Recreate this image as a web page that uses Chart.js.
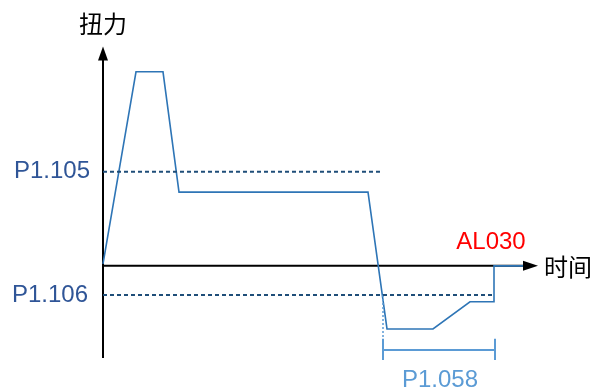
<!DOCTYPE html>
<html>
<head>
<meta charset="utf-8">
<script src="https://cdn.jsdelivr.net/npm/chart.js@4.4.1/dist/chart.umd.min.js"></script>
<style>
  html, body { margin: 0; padding: 0; background: #ffffff; }
  #wrap { width: 596px; height: 392px; }
</style>
</head>
<body>
<div id="wrap"><canvas id="chart" width="596" height="392"></canvas></div>
<script>
// Torque curve (time units, torque units; peak = 100)
const curveTime   = [0, 8.25, 15, 19, 66.25, 71, 82.5, 91.75, 97.75, 97.75, 105];
const curveTorque = [1, 100, 100, 38, 38, -32.5, -32.5, -18.5, -18.5, 0, 0];

// Threshold levels
const p1105Level = 48.5;
const p1105End = 70;
const p1106Level = -15;
const p1106End = 97.75;

// P1.058 bracket
const bracketStart = 70;
const bracketEnd = 98;
const bracketLevel = -43.3;
const bracketTop = -37.6;
const bracketBottom = -48.5;

// Axes extent
const xAxisEnd = 108.75;
const yAxisTop = 113;
const yAxisBottom = -47.5;

const curveColor = '#2E75B6';
const dashColor = '#1F4E79';
const bracketColor = '#5B9BD5';
const labelColor = '#2F5597';

function pts(xs, ys) { return xs.map(function(x, i) { return { x: x, y: ys[i] }; }); }

const lineBase = { showLine: true, fill: false, tension: 0, pointRadius: 0, pointHoverRadius: 0 };

const datasets = [
  Object.assign({}, lineBase, {
    label: 'P1.105',
    data: pts([0, p1105End], [p1105Level, p1105Level]),
    borderColor: dashColor, borderWidth: 2, borderDash: [4, 3]
  }),
  Object.assign({}, lineBase, {
    label: 'P1.106',
    data: pts([0, p1106End], [p1106Level, p1106Level]),
    borderColor: dashColor, borderWidth: 2, borderDash: [4, 3]
  }),
  Object.assign({}, lineBase, {
    label: 'P1.058 guide',
    data: pts([bracketStart, bracketStart], [p1106Level, bracketTop]),
    borderColor: bracketColor, borderWidth: 1.5, borderDash: [2, 2]
  }),
  Object.assign({}, lineBase, {
    // left tick, span, right tick (hidden joins between them)
    label: 'P1.058',
    data: pts([bracketStart, bracketStart, bracketStart, bracketEnd, bracketEnd, bracketEnd],
              [bracketTop, bracketBottom, bracketLevel, bracketLevel, bracketTop, bracketBottom]),
    borderColor: bracketColor, borderWidth: 2,
    segment: {
      borderColor: function(c) { return c.p0DataIndex % 2 === 0 ? bracketColor : 'rgba(0,0,0,0)'; }
    }
  }),
  Object.assign({}, lineBase, {
    label: '扭力',
    data: pts(curveTime, curveTorque),
    borderColor: curveColor, borderWidth: 1.6
  })
];

const axesPlugin = {
  id: 'axes',
  beforeDatasetsDraw: function(chart) {
    const xs = chart.scales.x, ys = chart.scales.y, ctx = chart.ctx;
    const x0 = xs.getPixelForValue(0), y0 = ys.getPixelForValue(0);
    const xEnd = xs.getPixelForValue(xAxisEnd);
    const yTop = ys.getPixelForValue(yAxisTop), yBot = ys.getPixelForValue(yAxisBottom);
    ctx.save();
    ctx.strokeStyle = '#000'; ctx.fillStyle = '#000'; ctx.lineWidth = 2;
    ctx.beginPath();
    ctx.moveTo(x0, yBot); ctx.lineTo(x0, yTop + 12);
    ctx.moveTo(x0, y0); ctx.lineTo(xEnd - 14, y0);
    ctx.stroke();
    ctx.beginPath();
    ctx.moveTo(x0, yTop); ctx.lineTo(x0 - 5, yTop + 14); ctx.lineTo(x0 + 5, yTop + 14); ctx.closePath();
    ctx.fill();
    ctx.beginPath();
    ctx.moveTo(xEnd, y0); ctx.lineTo(xEnd - 15, y0 - 5); ctx.lineTo(xEnd - 15, y0 + 5); ctx.closePath();
    ctx.fill();
    ctx.restore();
  },
  afterDraw: function(chart) {
    const xs = chart.scales.x, ys = chart.scales.y, ctx = chart.ctx;
    const x0 = xs.getPixelForValue(0), y0 = ys.getPixelForValue(0);
    ctx.save();
    ctx.textBaseline = 'middle';
    ctx.font = '24px "Noto Sans CJK SC"';
    ctx.fillStyle = '#000';
    ctx.textAlign = 'center';
    ctx.fillText('扭力', x0, 24);
    ctx.textAlign = 'left';
    ctx.fillText('时间', xs.getPixelForValue(xAxisEnd) + 6, y0 + 1);
    ctx.font = '24px "Liberation Sans", Arial, sans-serif';
    ctx.textAlign = 'right';
    ctx.fillStyle = labelColor;
    ctx.fillText('P1.105', x0 - 13, ys.getPixelForValue(p1105Level));
    ctx.fillText('P1.106', x0 - 15, ys.getPixelForValue(p1106Level));
    ctx.fillStyle = '#FF0000';
    ctx.textAlign = 'center';
    ctx.fillText('AL030', xs.getPixelForValue(p1106End) - 3, y0 - 23);
    ctx.fillStyle = bracketColor;
    ctx.fillText('P1.058', xs.getPixelForValue((bracketStart + bracketEnd) / 2) + 1, ys.getPixelForValue(bracketBottom) + 20);
    ctx.restore();
  }
};

new Chart(document.getElementById('chart').getContext('2d'), {
  type: 'scatter',
  data: { datasets: datasets },
  options: {
    responsive: false,
    animation: false,
    layout: { padding: 0 },
    plugins: { legend: { display: false }, tooltip: { enabled: false } },
    scales: {
      x: { type: 'linear', display: false, min: -25.75, max: 123.25 },
      y: { type: 'linear', display: false, min: -65, max: 137 }
    }
  },
  plugins: [axesPlugin]
});
</script>
</body>
</html>
